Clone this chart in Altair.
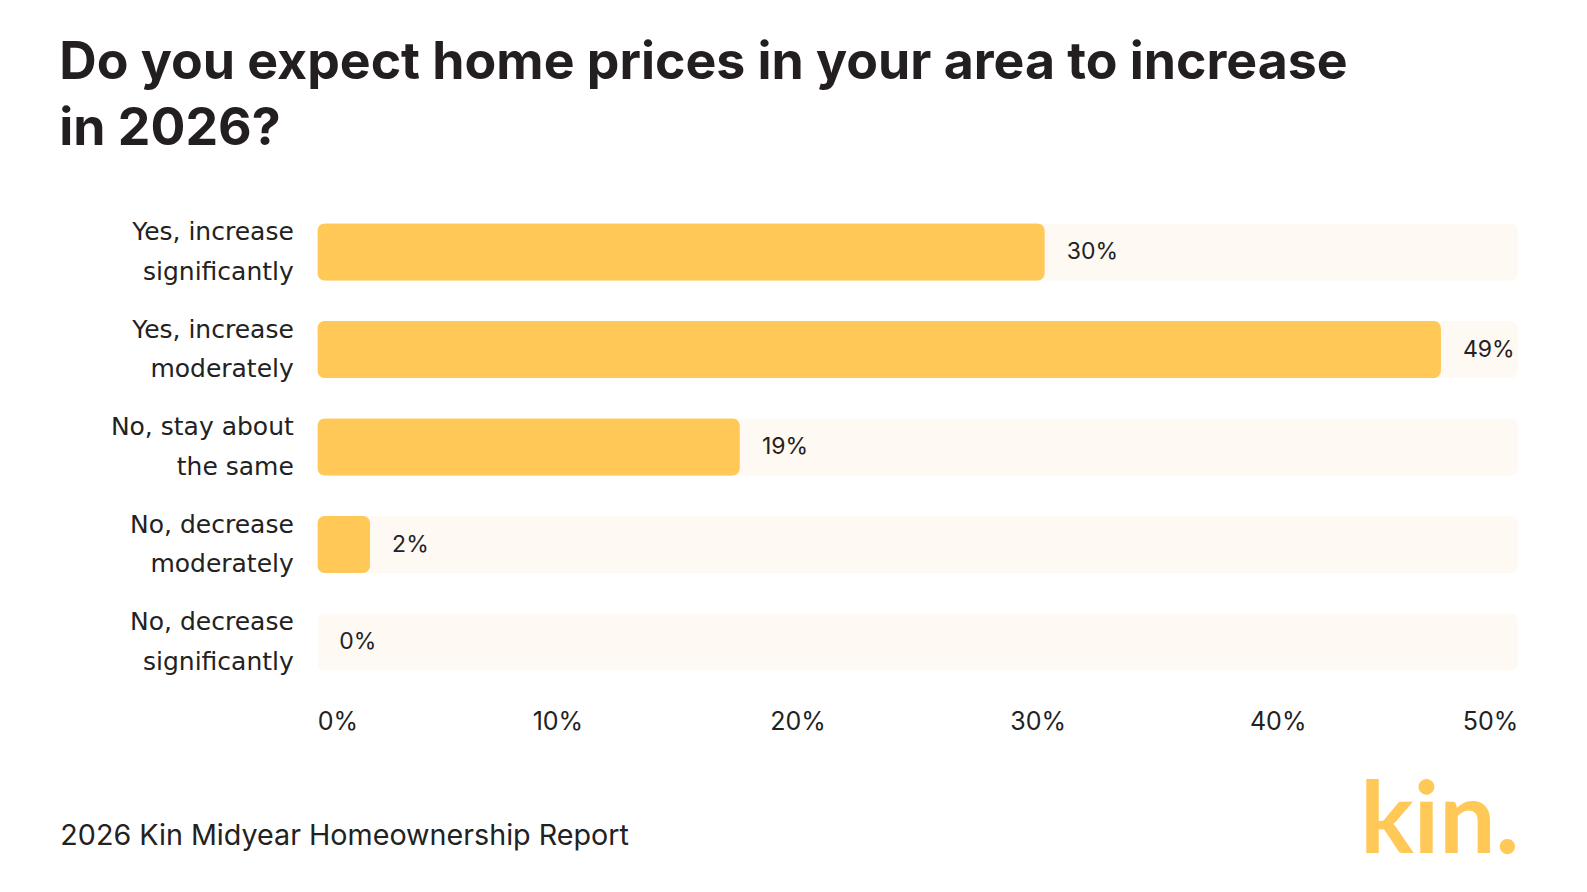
import altair as alt
import pandas as pd

# ---- data ----
categories = [
    "Yes, increase|significantly",
    "Yes, increase|moderately",
    "No, stay about|the same",
    "No, decrease|moderately",
    "No, decrease|significantly",
]
bar_values = [30.3, 46.8, 17.6, 2.2, 0.0]
value_labels = ["30%", "49%", "19%", "2%", "0%"]
track_max = 50
x_ticks = [0, 10, 20, 30, 40, 50]

title_lines = ["Do you expect home prices in your area to increase", "in 2026?"]
footer_text = ["2026 Kin Midyear Homeownership Report"]
logo_text = ["kin."]

df = pd.DataFrame({
    "category": categories,
    "value": bar_values,
    "label": value_labels,
    "track": [track_max] * len(categories),
})

TEXT = "#222222"
BAR = "#FFC857"
TRACK = "#FEF9F2"

y = alt.Y(
    "category:N",
    sort=categories,
    scale=alt.Scale(paddingInner=0.41, paddingOuter=0),
    axis=alt.Axis(
        title=None,
        labelExpr="split(datum.label, '|')",
        labelFont="DejaVu Sans",
        labelFontSize=25,
        labelColor=TEXT,
        labelLineHeight=39.5,
        labelPadding=24,
        labelOffset=-20,
        labelAlign="right",
        labelBaseline="middle",
        labelLimit=400,
        ticks=False,
        domain=False,
    ),
)
x_scale = alt.Scale(domain=[0, 50], nice=False, zero=True)
x_axis = alt.Axis(
    values=x_ticks,
    labelExpr="datum.value + '%'",
    title=None,
    ticks=False,
    domain=False,
    grid=False,
    labelFlush=True,
    labelFont="Inter",
    labelFontSize=25,
    labelPadding=39,
    labelColor=TEXT,
)

track = alt.Chart(df).mark_bar(color=TRACK, cornerRadius=8).encode(
    x=alt.X("track:Q", scale=x_scale, axis=x_axis), y=y
)
bars = alt.Chart(df).transform_filter("datum.value > 0").mark_bar(
    color=BAR, cornerRadius=8
).encode(x=alt.X("value:Q", scale=x_scale), y=y)
texts = alt.Chart(df).mark_text(
    align="left", baseline="middle", dx=22, font="Inter", fontSize=23, color=TEXT
).encode(x=alt.X("value:Q", scale=x_scale), y=y, text="label:N")

footer = alt.Chart(pd.DataFrame({"t": footer_text})).mark_text(
    align="left", baseline="alphabetic", font="Inter", fontSize=28.7, color=TEXT
).encode(x=alt.value(-257), y=alt.value(621.7), text="t:N")

logo = alt.Chart(pd.DataFrame({"t": logo_text})).mark_text(
    align="right", baseline="alphabetic", font="Lato", fontSize=100,
    fontWeight=700, color=BAR
).encode(x=alt.value(1202), y=alt.value(629.7), text="t:N")

chart = alt.layer(track, bars, texts, footer, logo).properties(
    width=1200.5,
    height=447.5,
    padding={"left": 317.3, "top": 223.3, "right": 69.2, "bottom": 221.2},
    autosize=alt.AutoSizeParams(type="none"),
    background="white",
    title=alt.TitleParams(
        text=title_lines,
        anchor="start",
        frame="group",
        font="Inter",
        fontSize=51.8,
        fontWeight=700,
        color="#231F20",
        lineHeight=66,
        dx=-258,
        offset=64,
    ),
).configure_view(stroke=None)

chart.save("out.html", embed_options={"renderer": "svg", "actions": False})
